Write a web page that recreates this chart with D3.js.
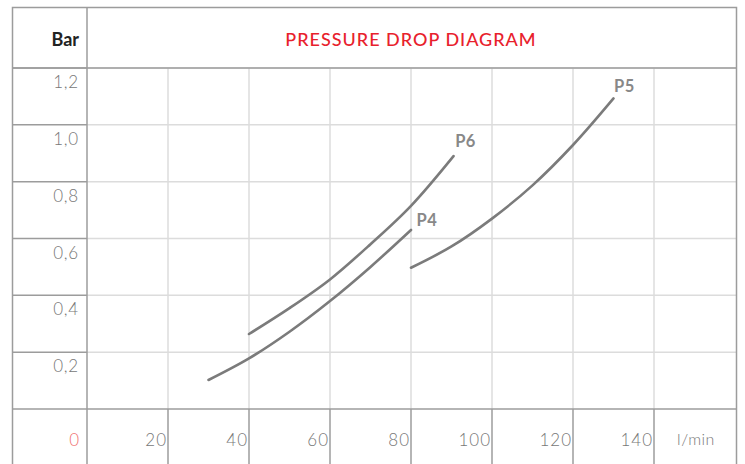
<!DOCTYPE html>
<html>
<head>
<meta charset="utf-8">
<script src="https://cdn.jsdelivr.net/npm/d3@7"></script>
<style>
  body { margin: 0; background: #fff; }
  text { font-family: Lato, "Open Sans", sans-serif; }
</style>
</head>
<body>
<div id="chart-area"></div>
<script>
var xTicks = [20, 40, 60, 80, 100, 120, 140];
var yTicks = [0.2, 0.4, 0.6, 0.8, 1.0, 1.2];
var yLabels = ["0,2", "0,4", "0,6", "0,8", "1,0", "1,2"];
var seriesNames = ["P4", "P6", "P5"];
var p4 = [[30, 0.102], [40, 0.178], [50, 0.272], [60, 0.38], [70, 0.50], [80, 0.63]];
var p6 = [[40, 0.264], [50, 0.355], [60, 0.456], [70, 0.58], [80, 0.715], [90.5, 0.89]];
var p5 = [[80, 0.497], [90, 0.572], [100, 0.67], [110, 0.787], [120, 0.929], [130, 1.093]];
var series = [p4, p6, p5];

var W = 745, H = 464;
var svg = d3.select("#chart-area")
    .append("svg")
    .attr("width", W)
    .attr("height", H);

var frameLeft = 12.5, frameRight = 736.5, frameTop = 7.5, headerBottom = 68;
var x = d3.scaleLinear().domain([0, 140]).range([87, 654]);
var y = d3.scaleLinear().domain([0, 1.2]).range([409, 68]);

var light = "#dcdcdc", dark = "#9c9c9c";

// light grid inside plot
svg.selectAll("line.vgrid").data(xTicks).enter().append("line")
    .attr("x1", d => x(d)).attr("x2", d => x(d))
    .attr("y1", headerBottom).attr("y2", y(0))
    .attr("stroke", light).attr("stroke-width", 1.5);
svg.selectAll("line.hgrid").data(yTicks).enter().append("line")
    .attr("x1", x(0)).attr("x2", frameRight)
    .attr("y1", d => y(d)).attr("y2", d => y(d))
    .attr("stroke", light).attr("stroke-width", 1.5);

// darker table lines
svg.selectAll("line.lcol").data(yTicks).enter().append("line")
    .attr("x1", frameLeft).attr("x2", x(0))
    .attr("y1", d => y(d)).attr("y2", d => y(d))
    .attr("stroke", dark).attr("stroke-width", 1.5);
svg.selectAll("line.bcol").data(xTicks).enter().append("line")
    .attr("x1", d => x(d)).attr("x2", d => x(d))
    .attr("y1", y(0)).attr("y2", H)
    .attr("stroke", dark).attr("stroke-width", 1.5);
svg.append("line").attr("x1", frameLeft).attr("x2", frameRight).attr("y1", y(0)).attr("y2", y(0))
    .attr("stroke", dark).attr("stroke-width", 1.5);
svg.append("line").attr("x1", frameLeft).attr("x2", frameRight).attr("y1", headerBottom).attr("y2", headerBottom)
    .attr("stroke", dark).attr("stroke-width", 1.5);
svg.append("line").attr("x1", x(0)).attr("x2", x(0)).attr("y1", frameTop).attr("y2", H)
    .attr("stroke", dark).attr("stroke-width", 1.5);
svg.append("path")
    .attr("d", "M" + frameLeft + "," + H + "V" + frameTop + "H" + frameRight + "V" + H)
    .attr("fill", "none").attr("stroke", dark).attr("stroke-width", 1.5);

// header
svg.append("text").attr("x", 79).attr("y", 46).attr("text-anchor", "end")
    .attr("font-size", 18).attr("font-weight", 700).attr("fill", "#222").text("Bar");
svg.append("text").attr("x", 411).attr("y", 46).attr("text-anchor", "middle")
    .attr("font-family", "'Open Sans', Lato, sans-serif")
    .attr("font-size", 18).attr("font-weight", 500).attr("letter-spacing", 1).attr("fill", "#e8212c")
    .text("PRESSURE DROP DIAGRAM");

// tick labels
svg.selectAll("text.ylab").data(yTicks).enter().append("text")
    .attr("x", 79).attr("y", d => y(d) + 20).attr("text-anchor", "end")
    .attr("font-size", 17).attr("font-weight", 300).attr("letter-spacing", 0.8).attr("fill", "#777")
    .text((d, i) => yLabels[i]);
svg.append("text").attr("x", 79).attr("y", y(0) + 37).attr("text-anchor", "end")
    .attr("font-size", 17).attr("font-weight", 300).attr("fill", "#f07070").text("0");
svg.selectAll("text.xlab").data(xTicks).enter().append("text")
    .attr("x", d => x(d) - 1).attr("y", y(0) + 37).attr("text-anchor", "end")
    .attr("font-size", 17).attr("font-weight", 300).attr("letter-spacing", 1).attr("fill", "#777")
    .text(d => d);
svg.append("text").attr("x", 696).attr("y", y(0) + 36).attr("text-anchor", "middle")
    .attr("font-size", 16).attr("font-weight", 300).attr("letter-spacing", 0.5).attr("fill", "#777").text("l/min");

// curves
var line = d3.line()
    .x(d => x(d[0]))
    .y(d => y(d[1]))
    .curve(d3.curveCatmullRom.alpha(0.5));
svg.selectAll("path.curve").data(series).enter().append("path")
    .attr("d", line)
    .attr("fill", "none")
    .attr("stroke", "#7b7b7b")
    .attr("stroke-width", 2.6)
    .attr("stroke-linecap", "round");

// curve labels near line ends
var labelOffsets = [[16, -4], [12, -9], [11, -6]];
svg.selectAll("text.slab").data(series).enter().append("text")
    .attr("x", (d, i) => x(d[d.length - 1][0]) + labelOffsets[i][0])
    .attr("y", (d, i) => y(d[d.length - 1][1]) + labelOffsets[i][1])
    .attr("text-anchor", "middle")
    .attr("font-size", 16.5).attr("font-weight", 700).attr("letter-spacing", 0.5).attr("fill", "#888")
    .text((d, i) => seriesNames[i]);
</script>
</body>
</html>
